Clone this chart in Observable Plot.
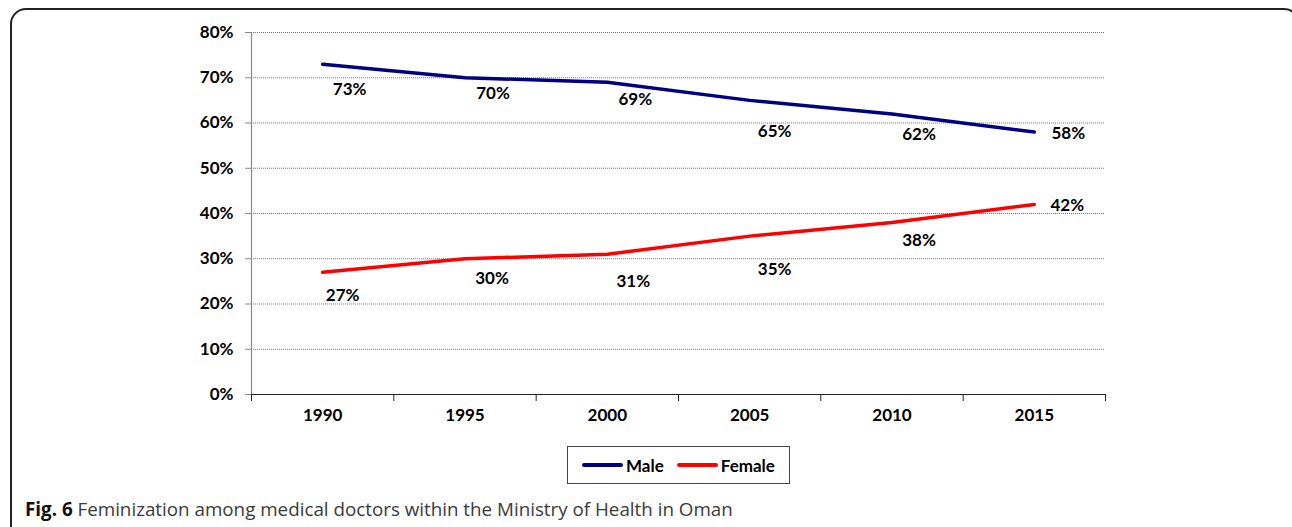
<!DOCTYPE html>
<html>
<head>
<meta charset="utf-8">
<script src="https://cdn.jsdelivr.net/npm/d3@7"></script>
<script src="https://cdn.jsdelivr.net/npm/@observablehq/plot@0.6"></script>
<style>
  html, body { margin: 0; padding: 0; background: #fff; }
  #wrap { position: relative; width: 1292px; height: 527px; overflow: hidden; }
  #frame { position: absolute; left: 10px; top: 8px; width: 1290px; height: 560px;
           border: 2px solid #222; border-radius: 16px; box-sizing: border-box; }
  #chart { position: absolute; left: 0; top: 0; }
  #legend { position: absolute; left: 567px; top: 446px; width: 223px; height: 38px;
            border: 1.5px solid #444; box-sizing: border-box; display: flex; align-items: center;
            font: bold 17px Lato, sans-serif; color: #000; }
  .sw { display: inline-block; width: 41px; height: 4px; border-radius: 2px; margin-left: 14px; margin-right: 3px; }
  #caption { position: absolute; left: 25px; top: 496px; font: 18.8px "Open Sans", sans-serif; color: #3a3a3a; white-space: nowrap; }
  #caption b { color: #111; }
</style>
</head>
<body>
<div id="wrap">
  <div id="frame"></div>
  <div id="chart"></div>
  <div id="legend"><span class="sw" style="background:#000080"></span>Male<span class="sw" style="background:#ff0000;margin-left:13px"></span>Female</div>
  <div id="caption"><b>Fig. 6</b> Feminization among medical doctors within the Ministry of Health in Oman</div>
</div>
<script>
const years = [1990, 1995, 2000, 2005, 2010, 2015];
const male = [0.73, 0.70, 0.69, 0.65, 0.62, 0.58];
const female = [0.27, 0.30, 0.31, 0.35, 0.38, 0.42];
const yTicks = [0, 0.1, 0.2, 0.3, 0.4, 0.5, 0.6, 0.7, 0.8];

// label offsets (px) mimicking the original label placement
const maleLabelOffsets = [[27, 25], [28, 16], [28, 17], [25, 31], [27, 21], [34, 1]];
const femaleLabelOffsets = [[20, 23], [27, 20], [26, 27], [25, 33], [27, 18], [33, 1]];

const maleData = years.map((y, i) => ({year: y, value: male[i]}));
const femaleData = years.map((y, i) => ({year: y, value: female[i]}));
const step = years[1] - years[0];
const boundaries = [years[0] - step / 2, ...years.map(y => y + step / 2)];

const fmt = d3.format(".0%");
const font = "Lato, sans-serif";

const labelMarks = (data, offs) => data.map((d, i) =>
  Plot.text([d], {x: "year", y: "value", text: d => fmt(d.value), dx: offs[i][0], dy: offs[i][1],
    textAnchor: "middle", lineAnchor: "middle", fontSize: 17, fontWeight: "bold", fill: "#000"}));

const chart = Plot.plot({
  width: 1292,
  height: 440,
  marginTop: 32,
  marginBottom: 46,
  marginLeft: 251,
  marginRight: 187,
  style: {fontFamily: font, background: "transparent"},
  x: {domain: [boundaries[0], boundaries[boundaries.length - 1]], axis: null},
  y: {domain: [0, 0.8], axis: null},
  marks: [
    Plot.ruleY(yTicks.slice(1), {stroke: "#777", strokeWidth: 1, strokeDasharray: "1,1"}),
    Plot.ruleX([boundaries[0]], {stroke: "#888", strokeWidth: 1.2}),
    Plot.axisY(yTicks, {anchor: "left", label: null, tickSize: 6, tickPadding: 12, tickFormat: fmt, stroke: "#888",
      fontSize: 17, fontWeight: "bold", fill: "#000"}),
    Plot.axisX(boundaries, {anchor: "bottom", label: null, tickSize: 7, tickFormat: () => "", stroke: "#222"}),
    Plot.axisX(years, {anchor: "bottom", label: null, tickSize: 0, tickPadding: 14, tickFormat: d => String(d),
      fontSize: 17, fontWeight: "bold", fill: "#000"}),
    Plot.ruleY([0], {stroke: "#222", strokeWidth: 1.2}),
    Plot.line(maleData, {x: "year", y: "value", stroke: "#000080", strokeWidth: 3.5}),
    Plot.line(femaleData, {x: "year", y: "value", stroke: "#ff0000", strokeWidth: 3.5}),
    ...labelMarks(maleData, maleLabelOffsets),
    ...labelMarks(femaleData, femaleLabelOffsets)
  ]
});
document.getElementById("chart").appendChild(chart);
</script>
</body>
</html>
